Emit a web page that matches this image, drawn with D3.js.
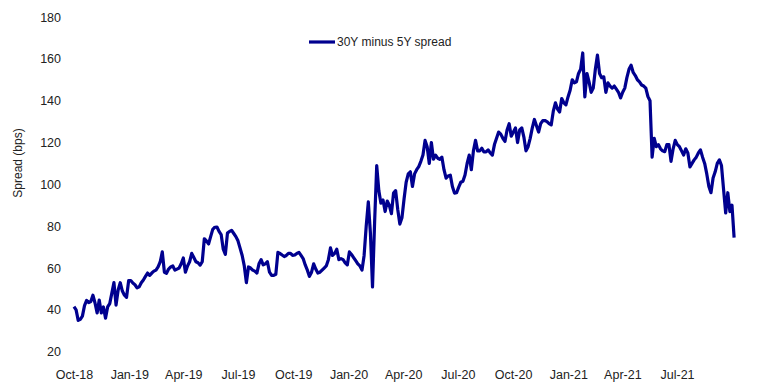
<!DOCTYPE html>
<html>
<head>
<meta charset="utf-8">
<script src="https://cdn.jsdelivr.net/npm/d3@7"></script>
<style>
    body { margin: 0; background: #fff; }
    svg { display: block; }
</style>
</head>
<body>
<svg id="chart"></svg>
<script>
// Twice-weekly readings of the 30Y minus 5Y spread (bps), starting 1 Oct 2018
const startDate = new Date(2018, 9, 1);
const stepDays = 3.5;
const spread = [
    41.5, 40, 35, 35.5, 37, 42, 44.5, 43.5, 44, 47,
    43.3, 38.5, 44.7, 38.5, 41.4, 36, 41.4, 43, 48, 53,
    42.3, 49.5, 53, 49, 47, 46, 54, 54, 52.8, 52,
    50.5, 51, 53, 54.3, 56, 57.6, 56.5, 57.6, 58.5, 59,
    60.5, 62.9, 67.7, 58, 57.5, 59.5, 60.5, 61, 59, 59.5,
    60, 62, 64.8, 58, 61, 63, 67, 65, 63, 62.5,
    61.4, 63, 74, 73, 71.5, 75, 78.5, 79.5, 79.6, 77.5,
    76, 69, 66.5, 76.7, 77.5, 78, 76.5, 75, 73, 69.5,
    66, 61, 53, 60.5, 60, 59, 58.5, 57.6, 62, 64,
    61.5, 62, 63, 58, 56.5, 56.5, 57, 67.5, 67, 66.2,
    65.5, 66, 67, 67, 66, 66.2, 67, 67.5, 66, 64.5,
    61.5, 59, 56, 58, 62, 59.5, 57.6, 58, 59, 60,
    61, 64, 69.6, 66, 67, 69, 64, 64.5, 64, 62.5,
    61.5, 67.7, 66.5, 65, 63.5, 62, 61, 59, 66, 80,
    91.6, 76.7, 51, 82, 109, 97, 91, 92.5, 87, 92,
    90, 86, 95.8, 97, 88, 81, 84, 93, 101, 105,
    106, 99, 105, 107, 108.5, 111, 114, 121, 118, 110,
    120, 112, 114, 112.5, 112, 113, 107, 103, 104, 104.4,
    99, 95.8, 96, 98.7, 101, 101.5, 104.5, 110, 114, 107,
    116, 121, 116, 116, 117.3, 115.5, 115.5, 116.5, 115, 114,
    119, 122, 125, 124, 122, 120.5, 126, 129, 123, 125,
    127, 120, 126, 127, 122.6, 116, 118, 122, 127, 131,
    128, 125, 129, 130.5, 130.5, 130, 129, 128.4, 135, 139,
    136, 134.6, 141, 139, 138, 141.8, 145, 150, 148.5, 149,
    153, 155, 162.8, 141.8, 153, 149, 144, 146, 155, 161.8,
    153, 151, 151.4, 144, 148.5, 147, 146, 147, 145.5, 144,
    141.3, 144, 146, 151, 155, 157, 153.5, 152, 150, 149,
    147.5, 147, 146, 142, 140, 113, 122, 118, 119, 117,
    116, 115.6, 119, 119, 111, 117, 121, 119, 118, 116,
    114, 117, 115, 108.3, 110, 111.7, 113, 115, 116.5, 113,
    110, 105, 99, 96, 103, 106, 110, 111.7, 109, 97.5,
    86.3, 96, 87, 90, 74.5
];
const tickDates = [
    new Date(2018, 9, 1), new Date(2019, 0, 1), new Date(2019, 3, 1), new Date(2019, 6, 1),
    new Date(2019, 9, 1), new Date(2020, 0, 1), new Date(2020, 3, 1), new Date(2020, 6, 1),
    new Date(2020, 9, 1), new Date(2021, 0, 1), new Date(2021, 3, 1), new Date(2021, 6, 1)
];
const yTicks = [20, 40, 60, 80, 100, 120, 140, 160, 180];
const seriesName = '30Y minus 5Y spread';
const yTitle = 'Spread (bps)';

const width = 760;
const height = 387;
const font = '"Liberation Sans", Arial, sans-serif';
const lineColor = '#00008f';

const data = spread.map((value, i) => ({
    date: new Date(startDate.getTime() + i * stepDays * 864e5),
    value
}));

const x = d3.scaleTime()
    .domain([new Date(2018, 9, 1), new Date(2021, 9, 1)])
    .range([74, 732.3]);
const y = d3.scaleLinear()
    .domain([20, 180])
    .range([351.7, 17]);

const svg = d3.select('#chart')
    .attr('width', width)
    .attr('height', height);

// Axes (labels only, no lines)
svg.append('g')
    .attr('transform', 'translate(0, 352)')
    .call(d3.axisBottom(x).tickValues(tickDates).tickFormat(d3.timeFormat('%b-%y')).tickSize(0).tickPadding(18))
    .call(g => g.select('.domain').remove())
    .selectAll('text')
    .style('font-family', font)
    .style('font-size', '12.5px')
    .style('fill', '#222');

svg.append('g')
    .attr('transform', 'translate(61, 0)')
    .call(d3.axisLeft(y).tickValues(yTicks).tickSize(0).tickPadding(0))
    .call(g => g.select('.domain').remove())
    .selectAll('text')
    .style('font-family', font)
    .style('font-size', '12.5px')
    .style('fill', '#222');

svg.append('text')
    .attr('transform', 'translate(18, 163) rotate(-90)')
    .attr('text-anchor', 'middle')
    .attr('dy', '0.35em')
    .style('font-family', font)
    .style('font-size', '12px')
    .style('fill', '#222')
    .text(yTitle);

// Series line
svg.append('path')
    .datum(data)
    .attr('d', d3.line().x(d => x(d.date)).y(d => y(d.value)))
    .style('fill', 'none')
    .style('stroke', lineColor)
    .style('stroke-width', 3.2)
    .style('stroke-linejoin', 'round');

// Legend
const legend = svg.append('g').attr('transform', 'translate(309, 42)');
legend.append('line')
    .attr('x1', 0).attr('x2', 26)
    .style('stroke', lineColor)
    .style('stroke-width', 3.2);
legend.append('text')
    .attr('x', 28)
    .attr('dy', '0.35em')
    .style('font-family', font)
    .style('font-size', '12px')
    .style('fill', '#222')
    .text(seriesName);
</script>
</body>
</html>
